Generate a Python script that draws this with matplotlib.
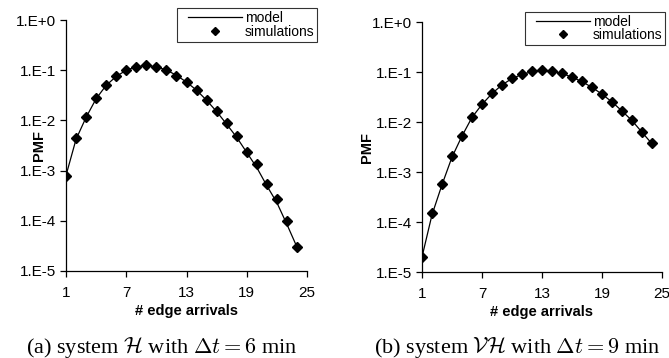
import matplotlib
matplotlib.use("Agg")
import matplotlib.pyplot as plt
from matplotlib.lines import Line2D
from matplotlib.legend_handler import HandlerLine2D

plt.rcParams['font.family'] = ['Liberation Sans', 'DejaVu Sans']
plt.rcParams['mathtext.fontset'] = 'cm'

# number of edge arrivals
arrivals = list(range(1, 25))

# system H, dt = 6 min
model_h = [8.0e-4, 4.2e-3, 1.15e-2, 2.7e-2, 5.0e-2, 7.5e-2, 0.100, 0.117, 0.124, 0.117,
           0.101, 0.079, 0.058, 0.040, 0.0252, 0.0150, 0.0084, 0.0046, 0.0023, 0.00115,
           5.0e-4, 2.3e-4, 8.5e-5, 3.0e-5]
sim_h = [7.9e-4, 4.4e-3, 1.19e-2, 2.75e-2, 5.15e-2, 7.55e-2, 0.101, 0.117, 0.125, 0.116,
         0.101, 0.078, 0.058, 0.040, 0.0255, 0.0154, 0.0087, 0.0050, 0.00235, 0.00133,
         5.3e-4, 2.7e-4, 9.9e-5, 3.0e-5]

# system VH, dt = 9 min
model_vh = [2.0e-5, 1.4e-4, 5.6e-4, 2.0e-3, 5.3e-3, 0.0125, 0.0228, 0.0375, 0.056, 0.075,
            0.091, 0.103, 0.108, 0.104, 0.095, 0.080, 0.065, 0.050, 0.0365, 0.0255,
            0.0168, 0.0108, 0.0063, 0.0037]
sim_vh = [2.0e-5, 1.5e-4, 5.8e-4, 2.07e-3, 5.4e-3, 0.0127, 0.0231, 0.0378, 0.0563, 0.0755,
          0.092, 0.104, 0.109, 0.104, 0.095, 0.080, 0.066, 0.050, 0.0366, 0.0257,
          0.0170, 0.0110, 0.0063, 0.0039]

xticks = [1, 7, 13, 19, 25]
yticks = [1e-5, 1e-4, 1e-3, 1e-2, 1e-1, 1e0]
ylabels = ["1.E-5", "1.E-4", "1.E-3", "1.E-2", "1.E-1", "1.E+0"]

W, H = 669, 358
fig = plt.figure(figsize=(W / 100, H / 100), dpi=100)

def draw(rect, model, sim, caption, cap_x, ylab_x, leg_box, leg_space):
    ax = fig.add_axes(rect)
    ax.plot(arrivals, model, color='black', lw=0.9, label='model')
    ax.plot(arrivals, sim, ls='none', marker='D', ms=5.5, color='black', label='simulations')
    ax.set_yscale('log')
    ax.set_xlim(1, 25)
    ax.set_ylim(1e-5, 1)
    ax.set_xticks(xticks)
    ax.set_yticks(yticks)
    ax.set_yticklabels(ylabels)
    ax.minorticks_off()
    ax.spines['top'].set_visible(False)
    ax.spines['right'].set_visible(False)
    for s in ['left', 'bottom']:
        ax.spines[s].set_linewidth(0.9)
    ax.tick_params(labelsize=11, length=4, width=0.9)
    ax.tick_params(axis='x', pad=7)
    ax.tick_params(axis='y', pad=3)
    ax.set_xlabel('# edge arrivals', fontsize=10.5, fontweight='bold', labelpad=3)
    ax.set_ylabel('PMF', fontsize=10.5, fontweight='bold')
    ax.yaxis.set_label_coords(ylab_x, 0.5)
    leg = ax.legend(loc='upper right', bbox_to_anchor=leg_box, bbox_transform=fig.transFigure,
                    fontsize=10, frameon=True, fancybox=False, handlelength=4.5,
                    borderpad=0.2, labelspacing=leg_space, handletextpad=0.2, borderaxespad=0,
                    markerscale=0.7, handler_map={Line2D: HandlerLine2D(xpad=0.6)})
    leg.get_frame().set_edgecolor('black')
    leg.get_frame().set_linewidth(0.8)
    fig.text(cap_x / W, 1 - 347 / H, caption, ha='center', va='center',
             fontsize=16, family=['Liberation Serif', 'DejaVu Serif'])
    return ax

draw([66 / W, 1 - 271 / H, 241 / W, 251 / H], model_h, sim_h,
     r"(a) system $\mathcal{H}$ with $\Delta t = 6$ min", 162, -0.083,
     (317 / W, 1 - 8 / H), 0.0)
draw([422 / W, 1 - 272 / H, 240 / W, 249.6 / H], model_vh, sim_vh,
     r"(b) system $\mathcal{VH}$ with $\Delta t = 9$ min", 517, -0.2,
     (665 / W, 1 - 12 / H), -0.05)

fig.savefig('out.png', dpi=100)
